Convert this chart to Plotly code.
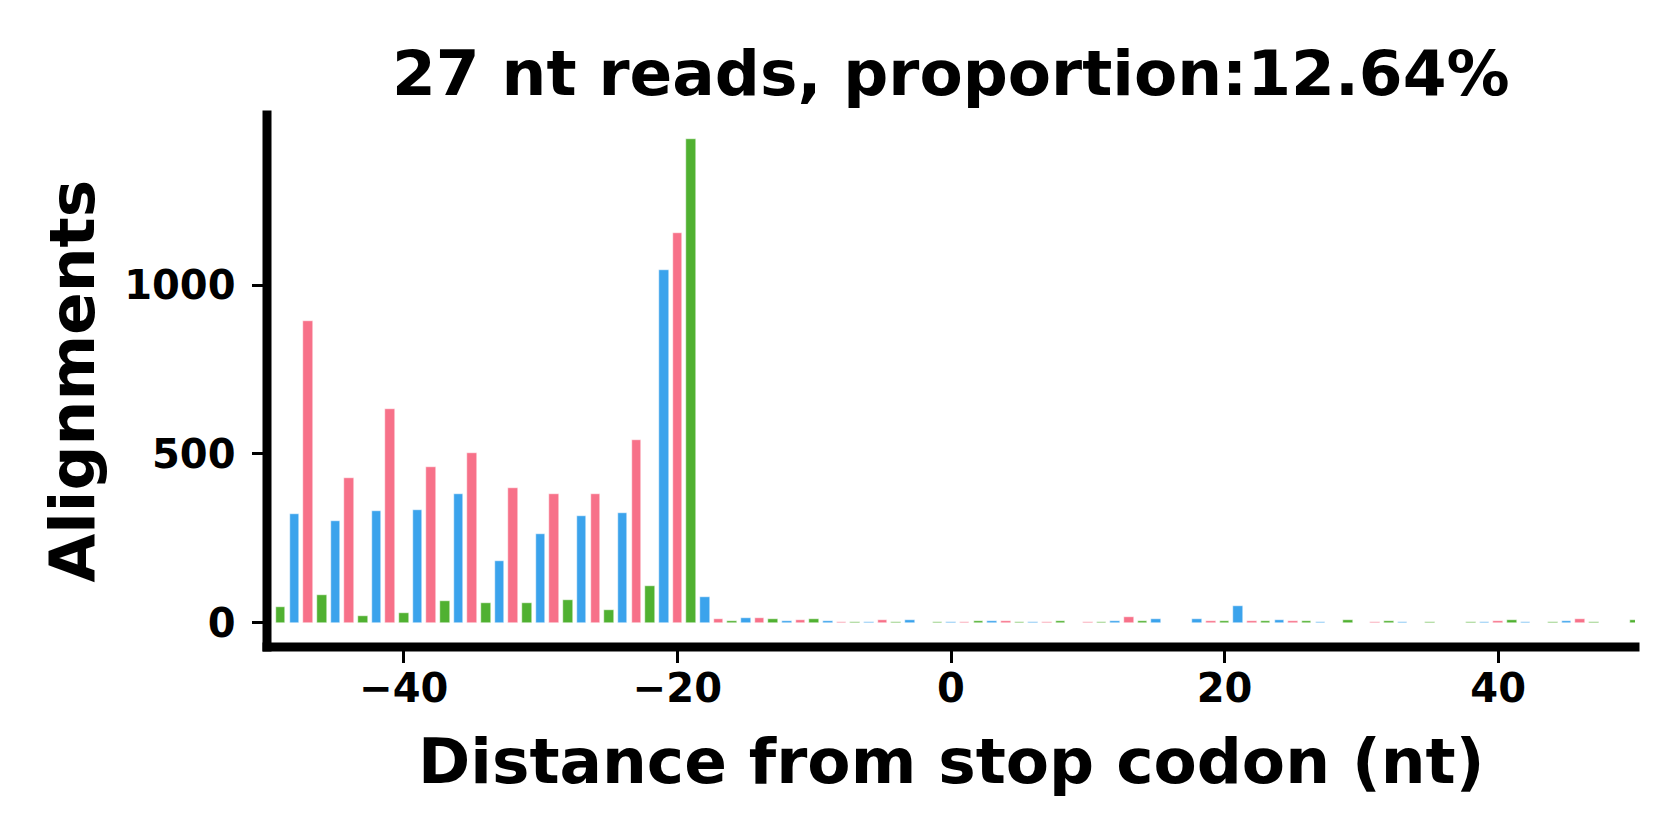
import plotly.graph_objects as go

positions = list(range(-49, 51))
counts = [
    46, 321, 894, 83, 301, 429, 21, 332, 634, 30,      # -49 .. -40
    335, 461, 65, 381, 502, 60, 183, 399, 60, 262,     # -39 .. -30
    381, 68, 315, 381, 38, 325, 542, 109, 1045, 1154,  # -29 .. -20
    1432, 77, 12, 4, 15, 15, 11, 4, 9, 11,             # -19 .. -10
    4, 3, 1, 1, 9, 3, 8, 0, 3, 1,                      # -9 .. 0
    3, 6, 6, 4, 3, 3, 1, 6, 0, 3,                      # 1 .. 10
    3, 6, 18, 6, 11, 0, 0, 11, 4, 6,                   # 11 .. 20
    50, 4, 4, 9, 4, 6, 1, 0, 9, 0,                     # 21 .. 30
    3, 4, 3, 0, 2, 0, 0, 3, 2, 6,                      # 31 .. 40
    9, 3, 0, 3, 6, 12, 2, 0, 0, 9,                     # 41 .. 50
]
frame_colors = ["#50b131", "#3ba3ec", "#f77189"]
x_ticks = [-40, -20, 0, 20, 40]
y_ticks = [0, 500, 1000]
title_text = "27 nt reads, proportion:12.64%"
x_label = "Distance from stop codon (nt)"
y_label = "Alignments"

colors = [frame_colors[(p - positions[0]) % 3] for p in positions]

# the page body adds an 8px offset, compensate in the margins
OFF = 8
W, H = 1680, 840
L, R, T, B = 267 - OFF, 45 + OFF, 115 - OFF, 193 + OFF
PW, PH = W - L - R, H - T - B

FONT = "DejaVu Sans"

fig = go.Figure()
fig.add_trace(go.Bar(
    x=positions, y=counts, width=0.7,
    marker=dict(color=colors, line=dict(color="white", width=0.5)),
    showlegend=False,
))

fig.update_layout(
    width=W, height=H,
    margin=dict(l=L, r=R, t=T, b=B, autoexpand=False),
    paper_bgcolor="white", plot_bgcolor="white",
    bargap=0,
    font=dict(family=FONT, color="black", weight="bold"),
    xaxis=dict(range=[-50, 50], tickvals=x_ticks, ticks="outside", ticklen=15,
               tickwidth=3.2, tickcolor="black", showgrid=False, zeroline=False,
               showline=False, tickfont=dict(size=40, family=FONT, weight="bold"),
               ticklabelstandoff=-9),
    yaxis=dict(range=[-71.6, 1503.6], tickvals=y_ticks, ticks="outside", ticklen=14.5,
               tickwidth=3.2, tickcolor="black", showgrid=False, zeroline=False,
               showline=False, tickfont=dict(size=40, family=FONT, weight="bold"),
               ticklabelstandoff=8),
)

lw = 9
ex = lw / 2 / PW
ey = lw / 2 / PH
# spines
fig.add_shape(type="line", xref="paper", yref="paper", x0=0, x1=0,
              y0=-ey, y1=1 + ey, line=dict(color="black", width=lw), layer="above")
fig.add_shape(type="line", xref="paper", yref="paper", x0=-ex, x1=1 + ex,
              y0=0, y1=0, line=dict(color="black", width=lw), layer="above")

# title
fig.add_annotation(text=title_text, xref="paper", yref="paper",
                   x=0.5, y=1 + (T - (73.5 - OFF)) / PH, xanchor="center", yanchor="middle",
                   showarrow=False, font=dict(size=63, family=FONT, weight="bold", color="black"))
# x label
fig.add_annotation(text=x_label, xref="paper", yref="paper",
                   x=0.5, y=-((761 - OFF) - (H - B)) / PH, xanchor="center", yanchor="middle",
                   showarrow=False, font=dict(size=63, family=FONT, weight="bold", color="black"))
# y label
fig.add_annotation(text=y_label, xref="paper", yref="paper", textangle=-90,
                   x=-(L - (71.5 - OFF)) / PW, y=0.5, xanchor="center", yanchor="middle",
                   showarrow=False, font=dict(size=63, family=FONT, weight="bold", color="black"))

fig.write_html("out.html")
